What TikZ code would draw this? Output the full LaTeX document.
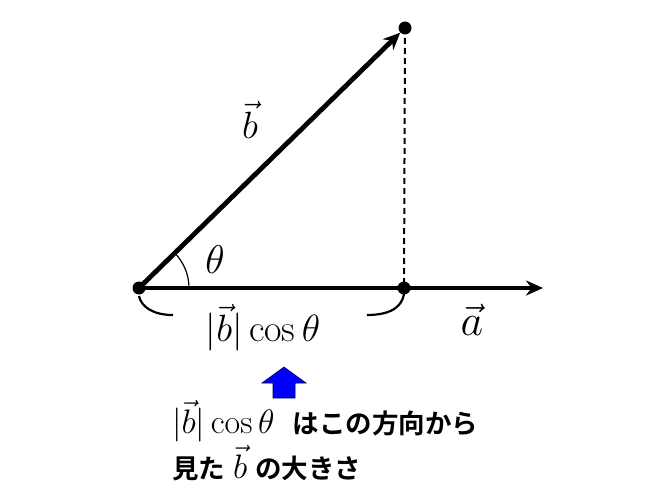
\RequirePackage{fix-cm}
\documentclass[tikz,border=0pt]{standalone}
\usepackage{fontspec}
\newfontfamily\jp{Noto Sans CJK JP}[BoldFont={* Bold}]
\usetikzlibrary{arrows.meta}
\begin{document}
\begin{tikzpicture}[x=1pt,y=-1pt,
  vec/.style={line width=4.8pt,-{Stealth[length=17pt,width=15pt]}},
  dotpt/.style={circle,fill=black,inner sep=0pt,minimum size=13pt},
  lbl/.style={inner sep=0pt},
  jptext/.style={font=\fontsize{26.5}{30}\selectfont\jp\bfseries,anchor=west,inner sep=0pt}]
\useasboundingbox (0,0) rectangle (650,500);
\node[dotpt] (O) at (139,288) {};
\node[dotpt] (P) at (405,28) {};
\node[dotpt] (F) at (404,288) {};
\coordinate (A) at (543,288);
\draw[vec] (O.center) -- (A);
\draw[vec] (O.center) -- (P);
\draw[line width=2pt,dash pattern=on 6pt off 4pt] (P.center) -- (F.center);
\draw[line width=1.2pt] (189,288) arc[start angle=0,end angle=-44.4,radius=50];
% brace curves
\draw[line width=2.2pt] (O.center) ++(0,8) .. controls (141,306) and (152,315) .. (173,315);
\draw[line width=2.2pt] (F.center) ++(0,6) .. controls (402,306) and (392,315) .. (367,315);
\node[lbl,font=\fontsize{38}{42}\selectfont] (lb) at (250,120) {$\vec{b}$};
\node[lbl,font=\fontsize{40}{44}\selectfont] (lt) at (215,260) {$\theta$};
\node[lbl,font=\fontsize{44}{48}\selectfont] (la) at (472,320) {$\vec{a}$};
\node[lbl,font=\fontsize{38}{42}\selectfont] (lc) at (263,328) {$|\vec{b}|\cos\theta$};
\path[fill=blue,draw=black!70!blue,line width=0.6pt] (273,398) -- (273,383) -- (262,383) -- (284,367)
  -- (306,383) -- (295,383) -- (295,398) -- cycle;
\node[jptext] (t1) at (172,421) {\fontsize{34}{36}\selectfont$|\vec{b}|\cos\theta$\fontsize{26.5}{30}\selectfont\hspace{18pt}はこの方向から};
\node[jptext] (t2) at (172,463) {見た\fontsize{34}{36}\selectfont\hspace{8pt}$\vec{b}$\fontsize{26.5}{30}\selectfont\hspace{8pt}の大きさ};
\end{tikzpicture}
\end{document}
